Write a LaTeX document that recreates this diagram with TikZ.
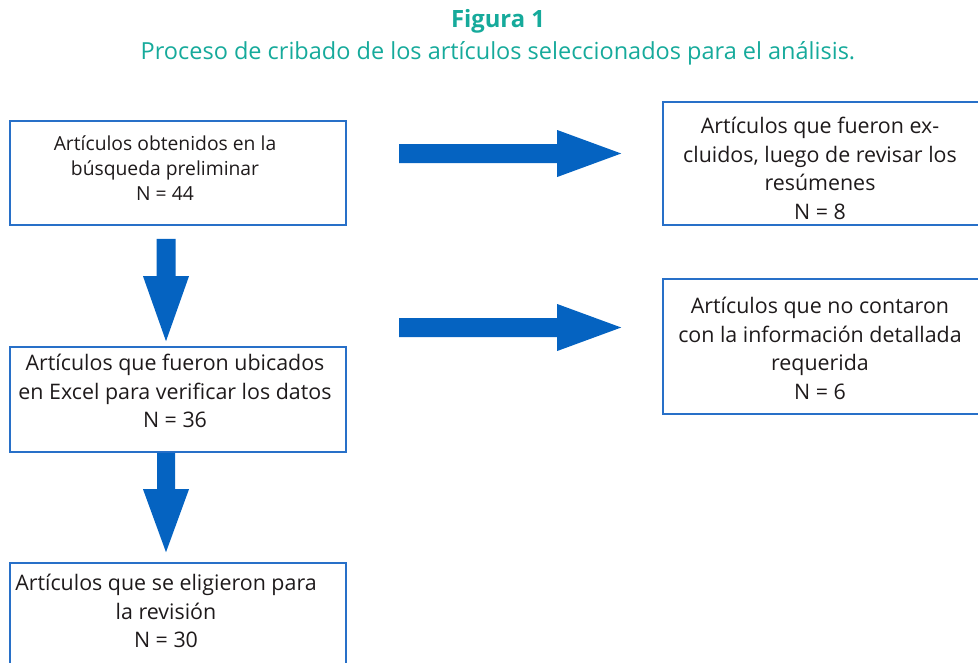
\documentclass[tikz,border=0pt]{standalone}
\usepackage{fontspec}
\setmainfont{Open Sans}
\usetikzlibrary{calc}
\definecolor{boxblue}{RGB}{40,112,200}
\definecolor{arrowblue}{RGB}{5,99,193}
\definecolor{teal}{RGB}{22,170,155}
\definecolor{ink}{RGB}{30,26,27}
\tikzset{
  flowbox/.style={draw=boxblue, line width=1.6pt, fill=none, inner sep=0pt},
  smalltext/.style={align=center, text=ink, font=\fontsize{19.3}{25}\selectfont, inner sep=0pt},
  boxtext/.style={align=center, text=ink, font=\fontsize{21.4}{28.5}\selectfont, inner sep=0pt},
  titletext/.style={text=teal, inner sep=0pt},
  blockfill/.style={fill=arrowblue, draw=none}
}
\begin{document}
\begin{tikzpicture}[x=1pt, y=-1pt]
\useasboundingbox (0,0) rectangle (978,662);
% titles
\node[titletext, font=\fontsize{23.8}{25}\selectfont\bfseries] (title) at (498,21) {Figura 1};
\node[titletext, font=\fontsize{23.5}{25}\selectfont] (subtitle) at (498,53) {Proceso de cribado de los artículos seleccionados para el análisis.};
% boxes
\node[flowbox, minimum width=336pt, minimum height=104pt] (b1) at (178,173) {};
\node[flowbox, minimum width=336pt, minimum height=105pt] (b2) at (178,399.5) {};
\node[flowbox, minimum width=336pt, minimum height=140pt] (b3) at (178,633) {};
\node[flowbox, minimum width=322pt, minimum height=123pt] (r1) at (824,163.5) {};
\node[flowbox, minimum width=322pt, minimum height=135pt] (r2) at (824,346.5) {};
% texts
\node[smalltext] (t1) at (165,168) {Artículos obtenidos en la\\búsqueda preliminar\\N = 44};
\node[boxtext] (t2) at (175,391) {Artículos que fueron ubicados\\en Excel para verificar los datos\\N = 36};
\node[boxtext] (t3) at (166,611) {Artículos que se eligieron para\\la revisión\\N = 30};
\node[boxtext] (rt1) at (820,168.5) {Artículos que fueron ex-\\cluidos, luego de revisar los\\resúmenes\\N = 8};
\node[boxtext] (rt2) at (820,348.5) {Artículos que no contaron\\con la información detallada\\requerida\\N = 6};
% arrow anchor coordinates
\coordinate (d1s) at ($(b1.south)+(-12,13)$);
\coordinate (d1t) at ($(b2.north)+(-12,-5)$);
\coordinate (d2s) at ($(b2.south)+(-12,0)$);
\coordinate (d2t) at ($(b3.north)+(-12,-10)$);
\coordinate (h1s) at (399,153.5);
\coordinate (h1t) at ($(r1.west)+(-41,-10)$);
\coordinate (h2s) at (399,327.5);
\coordinate (h2t) at ($(r2.west)+(-41,-19)$);
% horizontal block arrows
\fill[blockfill] ($(h1s)+(0,-9.5)$) -- ($(h1t)+(-64,-9.5)$) -- ($(h1t)+(-64,-23.5)$) -- (h1t)
  -- ($(h1t)+(-64,23.5)$) -- ($(h1t)+(-64,9.5)$) -- ($(h1s)+(0,9.5)$) -- cycle;
\fill[blockfill] ($(h2s)+(0,-9.5)$) -- ($(h2t)+(-64,-9.5)$) -- ($(h2t)+(-64,-23.5)$) -- (h2t)
  -- ($(h2t)+(-64,23.5)$) -- ($(h2t)+(-64,9.5)$) -- ($(h2s)+(0,9.5)$) -- cycle;
% vertical block arrows
\fill[blockfill] ($(d1s)+(-9.5,0)$) -- ($(d1t)+(-9.5,-65)$) -- ($(d1t)+(-23,-65)$) -- (d1t)
  -- ($(d1t)+(23,-65)$) -- ($(d1t)+(9.5,-65)$) -- ($(d1s)+(9.5,0)$) -- cycle;
\fill[blockfill] ($(d2s)+(-9,0)$) -- ($(d2t)+(-9,-63)$) -- ($(d2t)+(-23,-63)$) -- (d2t)
  -- ($(d2t)+(23,-63)$) -- ($(d2t)+(9,-63)$) -- ($(d2s)+(9,0)$) -- cycle;
\end{tikzpicture}
\end{document}
